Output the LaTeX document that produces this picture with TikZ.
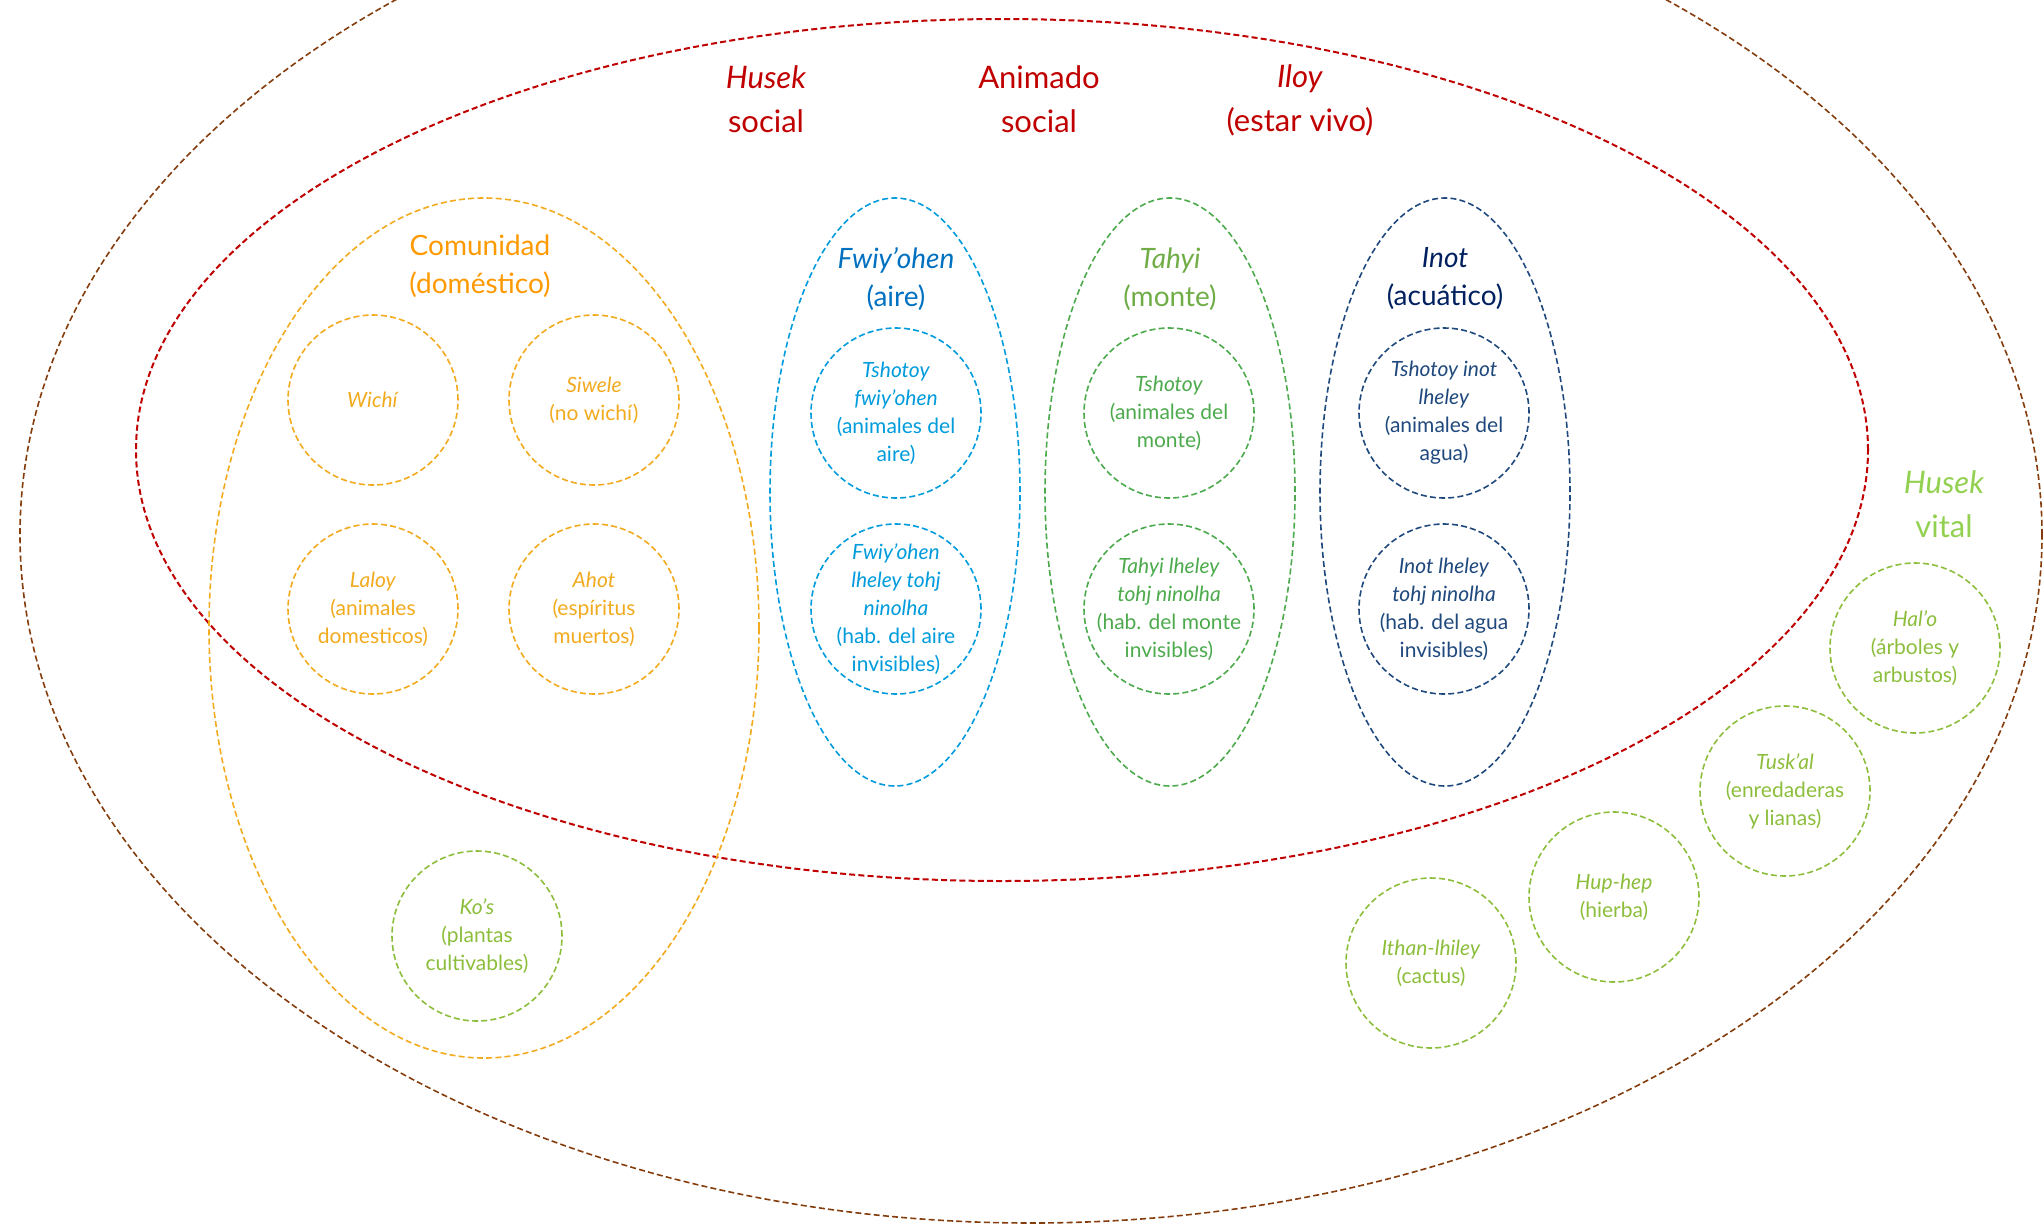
\documentclass[tikz,border=0pt]{standalone}
\usepackage{fontspec}
\setmainfont{Lato}
\definecolor{vidabrown}{RGB}{132,60,12}
\definecolor{animred}{RGB}{192,0,0}
\definecolor{comorange}{RGB}{255,153,0}
\definecolor{domgold}{RGB}{242,170,30}
\definecolor{airetit}{RGB}{0,112,192}
\definecolor{aireblue}{RGB}{0,155,220}
\definecolor{montetit}{RGB}{112,173,71}
\definecolor{montegreen}{RGB}{76,170,76}
\definecolor{aguatit}{RGB}{0,32,96}
\definecolor{aguablue}{RGB}{31,73,125}
\definecolor{vitalgreen}{RGB}{146,208,80}
\definecolor{plantgreen}{RGB}{140,190,60}
\tikzset{
  zone/.style={dash pattern=on 3pt off 1.6pt,line width=0.8pt},
  ser/.style={circle,draw,zone,minimum size=85pt,inner sep=-12pt,align=center,
    font=\fontsize{10.5}{14}\selectfont},
  titulo/.style={align=center,font=\fontsize{15.5}{22}\selectfont},
  grupo/.style={align=center,font=\fontsize{14}{19}\selectfont}
}
\begin{document}
\begin{tikzpicture}[x=0.5pt,y=-0.5pt]
  \useasboundingbox (0,0) rectangle (2044,1231);
  \clip (0,0) rectangle (2044,1231);
  % Husek vital (outer) and animado social
  \draw[zone,draw=vidabrown] (1031,535) ellipse [x radius=505.5pt,y radius=344pt];
  \draw[zone,draw=animred,line width=1pt] (1002,450) ellipse [x radius=433pt,y radius=215.5pt];
  % Comunidad
  \draw[zone,draw=domgold] (484,628) ellipse [x radius=137.5pt,y radius=215pt];
  % Aire, monte, agua
  \draw[zone,draw=aireblue] (895,492) ellipse [x radius=62.5pt,y radius=147pt];
  \draw[zone,draw=montegreen] (1170,492) ellipse [x radius=62.5pt,y radius=147pt];
  \draw[zone,draw=aguablue] (1445,492) ellipse [x radius=62.5pt,y radius=147pt];
  % Top titles
  \node[titulo,text=animred] (husek) at (766,99) {\textit{Husek}\\social};
  \node[titulo,text=animred] (animado) at (1039,99) {Animado\\social};
  \node[titulo,text=animred] (iloy) at (1300,100) {\textit{Iloy}\\(estar vivo)};
  \node[titulo,text=vitalgreen] (vital) at (1944,504) {\textit{Husek}\\vital};
  % Group titles
  \node[grupo,text=comorange] (comunidad) at (480,266) {Comunidad\\(doméstico)};
  \node[grupo,text=airetit] (aire) at (896,279) {\textit{Fwiy'ohen}\\(aire)};
  \node[grupo,text=montetit] (monte) at (1170,279) {\textit{Tahyi}\\(monte)};
  \node[grupo,text=aguatit] (agua) at (1445,279) {\textit{Inot}\\(acuático)};
  % Comunidad beings
  \node[ser,draw=domgold,text=domgold] (wichi) at (373,400) {\textit{Wichí}};
  \node[ser,draw=domgold,text=domgold] (siwele) at (594,400) {\textit{Siwele}\\(no wichí)};
  \node[ser,draw=domgold,text=domgold] (laloy) at (373,609) {\textit{Laloy}\\(animales\\domesticos)};
  \node[ser,draw=domgold,text=domgold] (ahot) at (594,609) {\textit{Ahot}\\(espíritus\\muertos)};
  \node[ser,draw=plantgreen,text=plantgreen] (kos) at (477,936) {\textit{Ko’s}\\(plantas\\cultivables)};
  % Aire beings
  \node[ser,draw=aireblue,text=aireblue] (tsaire) at (896,413) {\textit{Tshotoy}\\\textit{fwiy'ohen}\\(animales del\\aire)};
  \node[ser,draw=aireblue,text=aireblue] (invaire) at (896,609) {\textit{Fwiy'ohen}\\\textit{lheley tohj}\\\textit{ninolha}\\(hab. del aire\\invisibles)};
  % Monte beings
  \node[ser,draw=montegreen,text=montegreen] (tsmonte) at (1169,413) {\textit{Tshotoy}\\(animales del\\monte)};
  \node[ser,draw=montegreen,text=montegreen] (invmonte) at (1169,609) {\textit{Tahyi lheley}\\\textit{tohj ninolha}\\(hab. del monte\\invisibles)};
  % Agua beings
  \node[ser,draw=aguablue,text=aguablue] (tsagua) at (1444,413) {\textit{Tshotoy inot}\\\textit{lheley}\\(animales del\\agua)};
  \node[ser,draw=aguablue,text=aguablue] (invagua) at (1444,609) {\textit{Inot lheley}\\\textit{tohj ninolha}\\(hab. del agua\\invisibles)};
  % Plants
  \node[ser,draw=plantgreen,text=plantgreen] (halo) at (1915,648) {\textit{Hal’o}\\(árboles y\\arbustos)};
  \node[ser,draw=plantgreen,text=plantgreen] (tuskal) at (1785,791) {\textit{Tusk’al}\\(enredaderas\\y lianas)};
  \node[ser,draw=plantgreen,text=plantgreen] (huphep) at (1614,897) {\textit{Hup-hep}\\(hierba)};
  \node[ser,draw=plantgreen,text=plantgreen] (ithan) at (1431,963) {\textit{Ithan-lhiley}\\(cactus)};
\end{tikzpicture}
\end{document}
